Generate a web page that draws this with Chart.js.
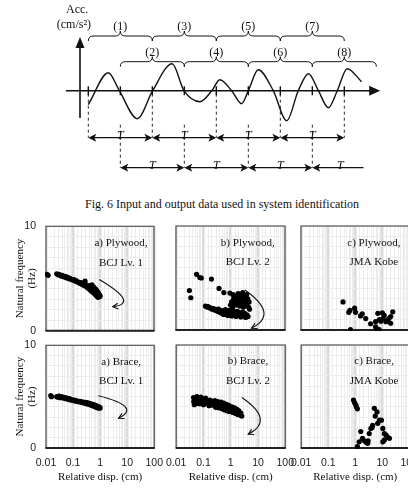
<!DOCTYPE html>
<html>
<head>
<meta charset="utf-8">
<script src="https://cdn.jsdelivr.net/npm/chart.js@4.4.1/dist/chart.umd.min.js"></script>
<style>
  html, body { margin: 0; padding: 0; background: #fff; overflow: hidden; }
  body { width: 408px; height: 488px; position: relative; }
  canvas { position: absolute; }
  #caption { position: absolute; left: 0; top: 197px; width: 444px; text-align: center;
             font: 12px 'Liberation Serif', serif; color: #111; white-space: nowrap; }
</style>
</head>
<body>
<div id="caption">Fig. 6 Input and output data used in system identification</div>
<script>
// Fig. 6 wave: time in half-window steps (T/2), acceleration in arbitrary units
const waveTime = [0, 0.625, 0.97, 1.53, 2.01, 2.62, 2.99, 3.49, 3.86, 4.11, 4.48, 4.79, 5.0, 5.31, 5.78, 6.2, 6.56, 6.88, 7.19, 7.5, 7.78, 8.09, 8.54];
const waveAcc = [-14, 18, 0, -28, 0, 27, 0, -11, 0, 11, 0, -13, 0, 21, 0, -30, 0, 17, 0, -17, 0, 22, 9];
const windowStarts1 = [0, 2, 4, 6];
const windowLabels1 = ['(1)', '(3)', '(5)', '(7)'];
const windowStarts2 = [1, 3, 5, 7];
const windowLabels2 = ['(2)', '(4)', '(6)', '(8)'];
const periodSpans1 = [[0, 2], [2, 4], [4, 6], [6, 8]];
const periodSpans2 = [[1, 3], [3, 5], [5, 7], [7, 8.6]];

// Fig. 7 panels: [relative disp. (cm), natural frequency (Hz)]
const plywoodLv1 = [[0.011,5.4],[0.012,5.3],[0.025,5.45],[0.028,5.35],[0.031,5.4],[0.034,5.3],[0.037,5.25],[0.04,5.3],[0.044,5.2],[0.048,5.15],[0.052,5.2],[0.056,5.1],[0.06,5.05],[0.065,5.1],[0.07,5.0],[0.075,4.95],[0.08,5.0],[0.09,4.9],[0.1,4.85],[0.11,4.9],[0.12,4.75],[0.13,4.8],[0.14,4.7],[0.16,4.65],[0.18,4.55],[0.2,4.6],[0.21,4.45],[0.23,4.5],[0.25,4.35],[0.28,4.75],[0.28,4.3],[0.3,4.4],[0.32,4.2],[0.34,4.35],[0.36,4.1],[0.38,4.25],[0.4,4.0],[0.42,4.3],[0.44,3.9],[0.46,4.15],[0.48,3.8],[0.5,4.05],[0.5,4.4],[0.53,3.7],[0.55,3.95],[0.57,4.2],[0.6,3.6],[0.62,3.85],[0.64,4.05],[0.66,3.5],[0.68,3.75],[0.7,3.95],[0.72,3.4],[0.74,3.6],[0.76,3.85],[0.78,3.3],[0.8,3.5],[0.82,3.7],[0.84,3.2],[0.86,3.4],[0.88,3.6],[0.9,3.3],[0.92,3.45],[0.95,3.25],[0.98,3.4],[1.0,3.3]];
const plywoodLv2 = [[0.031,3.8],[0.035,3.1],[0.057,5.35],[0.075,5.05],[0.085,5.0],[0.2,4.9],[0.38,4.0],[0.57,3.6],[0.95,3.55],
  [0.12,2.3],[0.13,2.25],[0.14,2.2],[0.15,2.25],[0.17,2.15],[0.19,2.1],[0.21,2.0],[0.24,2.05],[0.27,1.9],[0.3,1.95],[0.33,1.8],[0.36,2.0],[0.4,1.7],[0.44,1.9],[0.48,1.6],[0.52,1.8],[0.56,1.5],[0.6,1.75],[0.65,1.95],[0.7,1.55],[0.75,1.8],[0.8,1.4],[0.85,1.65],[0.9,1.9],[0.95,1.5],[1.0,1.75],[1.1,1.35],[1.2,1.6],[1.3,1.85],[1.4,1.45],[1.5,1.7],[1.6,1.3],[1.7,1.55],[1.8,1.8],[2.0,1.4],[2.2,1.65],[2.4,1.25],[2.6,1.5],[2.8,1.75],[3.0,1.35],[3.3,1.6],[3.6,1.2],[4.0,1.45],[4.4,1.3],
  [1.0,2.4],[1.1,2.7],[1.2,2.2],[1.25,3.4],[1.3,3.0],[1.4,2.5],[1.5,2.8],[1.6,3.2],[1.7,2.4],[1.8,2.9],[1.9,3.5],[2.0,2.6],[2.1,3.1],[2.2,2.3],[2.3,2.8],[2.4,3.3],[2.6,2.5],[2.7,3.0],[2.8,3.6],[3.0,2.2],[3.1,2.7],[3.3,3.2],[3.5,2.4],[3.7,2.9],[3.9,3.4],[4.1,2.6],[4.3,3.0],[4.6,2.2],[4.8,2.7],[5.0,2.0]];
const plywoodKobe = [[0.36,2.7],[0.59,1.7],[0.65,1.9],[0.97,2.1],[1.05,1.7],[0.68,0.05],[1.6,1.35],[1.85,1.55],[2.5,1.1],[3.8,0.6],[5.8,0.3],[7.8,0.05],[6.5,0.1],[9.1,0.85],[10.3,1.65],[12,1.4],[14,0.8],[16,0.9],[21,1.3],[25,1.75],[21,0.65],[5.8,0.8],[7,1.6],[8,1.0],[11,1.1],[18,1.1]];
const braceLv1 = [[0.015,5.1],[0.016,5.0],[0.025,5.0],[0.028,4.95],[0.03,5.05],[0.033,4.9],[0.036,5.0],[0.04,4.9],[0.043,4.95],[0.047,4.85],[0.05,4.9],[0.055,4.8],[0.06,4.85],[0.065,4.75],[0.07,4.8],[0.075,4.7],[0.08,4.75],[0.09,4.65],[0.1,4.7],[0.11,4.6],[0.12,4.65],[0.13,4.55],[0.14,4.6],[0.16,4.5],[0.18,4.55],[0.2,4.45],[0.22,4.5],[0.24,4.4],[0.26,4.45],[0.28,4.35],[0.3,4.45],[0.32,4.3],[0.35,4.4],[0.38,4.25],[0.4,4.35],[0.43,4.2],[0.46,4.3],[0.5,4.15],[0.53,4.25],[0.56,4.1],[0.6,4.2],[0.63,4.05],[0.66,4.15],[0.7,4.0],[0.73,4.1],[0.76,3.95],[0.8,4.05],[0.84,3.9],[0.88,4.0],[0.92,3.9],[0.96,3.95],[1.0,3.9]];
const braceLv2 = [[0.043,4.9],[0.044,4.5],[0.046,4.2],[0.05,4.7],[0.055,4.35],[0.057,5.0],[0.06,4.6],[0.065,4.9],[0.07,4.3],[0.075,4.7],[0.08,4.95],[0.085,4.45],[0.09,4.8],[0.1,4.2],[0.11,4.6],[0.12,4.85],[0.13,4.35],[0.14,4.6],[0.16,4.1],[0.17,4.65],[0.18,4.4],[0.2,4.55],[0.22,4.15],[0.24,4.4],[0.26,4.6],[0.28,3.95],[0.3,4.25],[0.33,4.5],[0.36,3.9],[0.4,4.2],[0.44,4.45],[0.48,3.8],[0.52,4.1],[0.56,4.35],[0.6,3.7],[0.65,4.0],[0.7,4.25],[0.75,3.6],[0.8,3.9],[0.85,4.15],[0.9,3.55],[1.0,3.8],[1.1,4.0],[1.2,3.45],[1.3,3.7],[1.4,3.9],[1.5,3.35],[1.6,3.6],[1.7,3.75],[1.8,3.25],[1.9,3.5],[2.0,3.6],[2.2,3.2],[2.35,3.4],[2.55,3.1]];
const braceKobe = [[0.86,4.66],[0.95,4.4],[1.05,4.2],[1.1,4.0],[1.2,3.8],[5.1,3.85],[6.4,3.5],[6.8,2.4],[7.9,2.7],[9.3,2.7],[4.4,2.2],[3.8,1.9],[3.3,1.4],[1.6,1.6],[10.5,1.9],[12,1.4],[14,1.26],[16,1.04],[18.5,0.94],[12,0.78],[10.5,0.6],[2.5,0.6],[2.9,0.45],[2.2,0.7],[3.0,0.7],[1.4,0.6],[1.2,0.13],[1.85,0.94],[2.7,0.5],[5.5,3.1],[4.2,2.0]];

const xTickLabels = ['0.01', '0.1', '1', '10', '100'];
const yTickLabels = ['0', '10'];

const SERIF = '"Liberation Serif", "Times New Roman", serif';
const SANS = '"Liberation Sans", Arial, sans-serif';

function addCanvas(left, top, width, height) {
    const c = document.createElement('canvas');
    c.width = width;
    c.height = height;
    c.style.left = left + 'px';
    c.style.top = top + 'px';
    c.style.width = width + 'px';
    c.style.height = height + 'px';
    document.body.appendChild(c);
    return c;
}

// ---------- Fig. 6 diagram ----------
function braceShape(ctx, x0, x1, y, h) {
    const xm = (x0 + x1) / 2;
    ctx.beginPath();
    ctx.moveTo(x0, y + h);
    ctx.quadraticCurveTo(x0, y, x0 + h, y);
    ctx.lineTo(xm - h, y);
    ctx.quadraticCurveTo(xm, y, xm, y - h);
    ctx.quadraticCurveTo(xm, y, xm + h, y);
    ctx.lineTo(x1 - h, y);
    ctx.quadraticCurveTo(x1, y, x1, y + h);
    ctx.stroke();
}

function spanHead(ctx, x, y, dir) {
    ctx.beginPath();
    ctx.moveTo(x, y);
    ctx.lineTo(x - dir * 8, y - 4);
    ctx.lineTo(x - dir * 6, y);
    ctx.lineTo(x - dir * 8, y + 4);
    ctx.closePath();
    ctx.fill();
}

const diagramPlugin = {
    id: 'diagram',
    beforeDatasetsDraw(chart) {
        const ctx = chart.ctx;
        const px = v => chart.scales.x.getPixelForValue(v);
        const py = v => chart.scales.y.getPixelForValue(v);
        ctx.save();
        ctx.strokeStyle = '#111';
        ctx.fillStyle = '#111';

        // axes
        const y0 = py(0);
        ctx.lineWidth = 1.6;
        ctx.beginPath();
        ctx.moveTo(px(-0.7), y0);
        ctx.lineTo(px(9.12) - 8, y0);
        ctx.moveTo(px(-0.26), py(-27.3));
        ctx.lineTo(px(-0.26), py(53.7) + 8);
        ctx.stroke();
        ctx.beginPath();
        ctx.moveTo(px(9.12), y0);
        ctx.lineTo(px(9.12) - 11, y0 - 5);
        ctx.lineTo(px(9.12) - 11, y0 + 5);
        ctx.closePath();
        ctx.fill();
        ctx.beginPath();
        ctx.moveTo(px(-0.26), py(53.7));
        ctx.lineTo(px(-0.26) - 4.5, py(53.7) + 11);
        ctx.lineTo(px(-0.26) + 4.5, py(53.7) + 11);
        ctx.closePath();
        ctx.fill();

        // ticks on time axis
        ctx.lineWidth = 1.4;
        ctx.beginPath();
        for (let k = 0; k <= 8; k++) {
            ctx.moveTo(px(k), y0 - 4.5);
            ctx.lineTo(px(k), y0 + 4.5);
        }
        ctx.stroke();

        // dashed guides
        ctx.lineWidth = 0.9;
        ctx.setLineDash([3, 3]);
        ctx.beginPath();
        for (let k = 0; k <= 8; k++) {
            if (k % 2 === 0) {
                ctx.moveTo(px(k), py(-3));
                ctx.lineTo(px(k), py(-47));
            } else {
                ctx.moveTo(px(k), py(-34));
                ctx.lineTo(px(k), py(-77));
            }
        }
        ctx.stroke();
        ctx.setLineDash([]);

        // braces and window numbers
        ctx.lineWidth = 1;
        ctx.font = '12px ' + SERIF;
        ctx.textAlign = 'center';
        ctx.textBaseline = 'middle';
        windowStarts1.forEach((s, i) => {
            braceShape(ctx, px(s), px(s + 2), py(54.7), 5);
            ctx.fillText(windowLabels1[i], px(s + 1), py(63.4));
        });
        windowStarts2.forEach((s, i) => {
            braceShape(ctx, px(s), px(s + 2), py(29), 5);
            ctx.fillText(windowLabels2[i], px(s + 1), py(38));
        });

        // period arrows
        ctx.lineWidth = 1.3;
        ctx.font = 'italic 12px ' + SERIF;
        ctx.textBaseline = 'alphabetic';
        const drawSpans = (spans, level) => {
            const y = py(level);
            spans.forEach(([a, b]) => {
                const x0 = px(a), x1 = px(b);
                const open = b % 1 !== 0;
                ctx.beginPath();
                ctx.moveTo(x0 + 4, y);
                ctx.lineTo(open ? x1 : x1 - 4, y);
                ctx.stroke();
                spanHead(ctx, x0, y, -1);
                if (!open) spanHead(ctx, x1, y, 1);
                ctx.fillText('T', (px(a) + px(Math.ceil(b))) / 2 + (open ? -4 : 0), y + 1.5);
            });
        };
        drawSpans(periodSpans1, -47);
        drawSpans(periodSpans2, -77);

        // axis label
        ctx.font = '12px ' + SERIF;
        ctx.textBaseline = 'middle';
        ctx.fillText('Acc.', px(-0.35), py(80.7));
        ctx.fillText('(cm/s\u00B2)', px(-0.45), py(65.7));
        ctx.restore();
    }
};

const topCanvas = addCanvas(0, 0, 408, 200);
new Chart(topCanvas, {
    type: 'scatter',
    data: {
        datasets: [{
            data: waveTime.map((t, i) => ({ x: t, y: waveAcc[i] })),
            showLine: true,
            borderColor: '#111',
            borderWidth: 1.4,
            pointRadius: 0,
            cubicInterpolationMode: 'monotone',
            clip: false
        }]
    },
    options: {
        responsive: false,
        animation: false,
        events: [],
        layout: { padding: 0 },
        plugins: { legend: { display: false }, tooltip: { enabled: false } },
        scales: {
            x: { type: 'linear', min: -2.76, max: 9.99, display: false },
            y: { type: 'linear', min: -109.3, max: 90.7, display: false }
        }
    },
    plugins: [diagramPlugin]
});

// ---------- Fig. 7 panels ----------
// target plot-area boxes (page pixels)
const cols = [
    { left: 0, area: 46, right: 154 },
    { left: 160, area: 176, right: 285 },
    { left: 285, area: 301, right: 409 }
];
const rows = [
    { area: 226, bottom: 330, axisH: 6 },
    { area: 345, bottom: 448, axisH: 40 }
];

function isDecade(v) {
    if (!v) return false;
    const l = Math.log10(v);
    return Math.abs(l - Math.round(l)) < 1e-6;
}

const panelDecor = {
    id: 'panelDecor',
    beforeDatasetsDraw(chart, args, opts) {
        const { ctx, chartArea: a } = chart;
        const xs = chart.scales.x, ys = chart.scales.y;
        ctx.save();
        // frame
        ctx.strokeStyle = '#555';
        ctx.lineWidth = 1.2;
        ctx.strokeRect(a.left, a.top, a.right - a.left, a.bottom - a.top);
        ctx.strokeStyle = '#222';
        ctx.lineWidth = 2;
        ctx.beginPath();
        ctx.moveTo(a.left - 0.5, a.bottom);
        ctx.lineTo(a.right + 0.5, a.bottom);
        ctx.stroke();

        // case label
        ctx.fillStyle = '#111';
        ctx.font = '11px ' + SERIF;
        ctx.textAlign = 'center';
        ctx.textBaseline = 'middle';
        const tx = xs.getPixelForValue(opts.textAt);
        ctx.fillText(opts.lines[0], tx, ys.getPixelForValue(8.4));
        ctx.fillText(opts.lines[1], tx, ys.getPixelForValue(6.5));

        // trend arrow
        if (opts.arrow) {
            const p = opts.arrow.map(([x, y]) => [xs.getPixelForValue(x), ys.getPixelForValue(y)]);
            const c = [2 * p[1][0] - (p[0][0] + p[2][0]) / 2, 2 * p[1][1] - (p[0][1] + p[2][1]) / 2];
            ctx.strokeStyle = '#111';
            ctx.lineWidth = 1.1;
            ctx.beginPath();
            ctx.moveTo(p[0][0], p[0][1]);
            ctx.quadraticCurveTo(c[0], c[1], p[2][0], p[2][1]);
            ctx.stroke();
            const ang = Math.atan2(p[2][1] - c[1], p[2][0] - c[0]);
            ctx.beginPath();
            ctx.moveTo(p[2][0] - 6 * Math.cos(ang - 0.5), p[2][1] - 6 * Math.sin(ang - 0.5));
            ctx.lineTo(p[2][0], p[2][1]);
            ctx.lineTo(p[2][0] - 6 * Math.cos(ang + 0.5), p[2][1] - 6 * Math.sin(ang + 0.5));
            ctx.stroke();
        }
        ctx.restore();
    }
};

function panelConfig(cfg) {
    const col = cols[cfg.col], row = rows[cfg.row];
    const first = cfg.col === 0, bottom = cfg.row === 1;
    return {
        type: 'scatter',
        data: {
            datasets: [{
                data: cfg.pts.map(([x, y]) => ({ x, y })),
                pointRadius: 2.6,
                pointHoverRadius: 0,
                backgroundColor: '#000',
                borderWidth: 0,
                clip: 1
            }]
        },
        options: {
            responsive: false,
            maintainAspectRatio: false,
            animation: false,
            events: [],
            layout: { padding: { top: 8, right: 16, left: 0, bottom: 0 } },
            plugins: {
                legend: { display: false },
                tooltip: { enabled: false },
                panelDecor: { lines: cfg.lines, textAt: cfg.textAt, arrow: cfg.arrow }
            },
            scales: {
                x: {
                    type: 'logarithmic',
                    min: 0.01,
                    max: 100,
                    afterFit: s => { s.height = row.axisH; },
                    border: { display: false },
                    grid: {
                        drawTicks: false,
                        color: c => isDecade(c.tick && c.tick.value) ? '#dadada' : '#ececec',
                        lineWidth: c => isDecade(c.tick && c.tick.value) ? 2.5 : 1
                    },
                    ticks: {
                        display: bottom,
                        autoSkip: false,
                        maxRotation: 0,
                        padding: 9,
                        color: '#222',
                        font: { family: SANS, size: 10.5 },
                        callback: v => isDecade(v) ? xTickLabels[Math.round(Math.log10(v)) + 2] : ''
                    },
                    title: {
                        display: bottom,
                        text: 'Relative disp. (cm)',
                        color: '#111',
                        font: { family: SERIF, size: 11, lineHeight: 1.1 },
                        padding: { top: 0, bottom: 5 }
                    }
                },
                y: {
                    type: 'linear',
                    min: 0,
                    max: 10,
                    afterFit: s => { s.width = col.area - col.left; },
                    border: { display: false },
                    grid: { drawTicks: false, color: '#ececec', lineWidth: 1 },
                    ticks: {
                        display: first,
                        stepSize: 1,
                        autoSkip: false,
                        padding: 10,
                        color: '#222',
                        font: { family: SANS, size: 10.5 },
                        callback: v => v === 0 ? yTickLabels[0] : (v === 10 ? yTickLabels[1] : '')
                    },
                    title: {
                        display: first,
                        text: ['Natural frequency', '(Hz)'],
                        color: '#111',
                        font: { family: SERIF, size: 11, lineHeight: 1.1 },
                        padding: { top: 14, bottom: 0 }
                    }
                }
            }
        },
        plugins: [panelDecor]
    };
}

// build once to learn the margins Chart.js reserves, then place the plot area exactly
function makePanel(cfg) {
    const col = cols[cfg.col], row = rows[cfg.row];
    const areaW = col.right - col.area, areaH = row.bottom - row.area;
    const probe = addCanvas(0, 0, 240, 240);
    const tmp = new Chart(probe, panelConfig(cfg));
    const a = tmp.chartArea;
    const mL = a.left, mT = a.top, mR = 240 - a.right, mB = 240 - a.bottom;
    tmp.destroy();
    probe.remove();
    const canvas = addCanvas(col.area - mL, row.area - mT, Math.round(mL + areaW + mR), Math.round(mT + areaH + mB));
    new Chart(canvas, panelConfig(cfg));
}

const panels = [
    { col: 0, row: 0, pts: plywoodLv1, lines: ['a) Plywood,', 'BCJ Lv. 1'], textAt: 6.0, arrow: [[0.94, 4.9], [7.1, 3.1], [2.97, 2.3]] },
    { col: 1, row: 0, pts: plywoodLv2, lines: ['b) Plywood,', 'BCJ Lv. 2'], textAt: 4.3, arrow: [[3.37, 3.85], [16.7, 1.76], [5.9, 0.16]] },
    { col: 2, row: 0, pts: plywoodKobe, lines: ['c) Plywood,', 'JMA Kobe'], textAt: 5.0, arrow: null },
    { col: 0, row: 1, pts: braceLv1, lines: ['a) Brace,', 'BCJ Lv. 1'], textAt: 6.0, arrow: [[0.86, 5.08], [8.5, 4.0], [4.8, 2.9]] },
    { col: 1, row: 1, pts: braceLv2, lines: ['b) Brace,', 'BCJ Lv. 2'], textAt: 4.3, arrow: [[2.55, 4.9], [12, 2.9], [4.4, 1.33]] },
    { col: 2, row: 1, pts: braceKobe, lines: ['c) Brace,', 'JMA Kobe'], textAt: 5.0, arrow: null }
];

panels.forEach(makePanel);
</script>
</body>
</html>
